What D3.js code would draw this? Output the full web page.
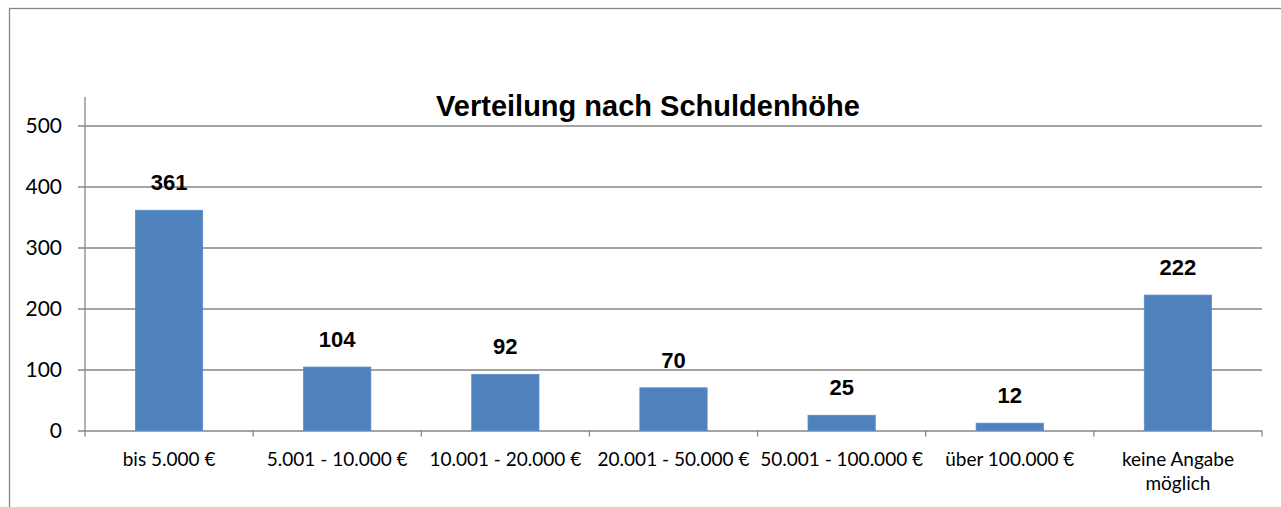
<!DOCTYPE html>
<html>
<head>
<meta charset="utf-8">
<script src="https://cdn.jsdelivr.net/npm/d3@7"></script>
<style>
  body { margin: 0; background: #fff; }
  svg { display: block; }
</style>
</head>
<body>
<svg id="chart"></svg>
<script>
var categories = [
  ["bis 5.000 €"],
  ["5.001 - 10.000 €"],
  ["10.001 - 20.000 €"],
  ["20.001 - 50.000 €"],
  ["50.001 - 100.000 €"],
  ["über 100.000 €"],
  ["keine Angabe", "möglich"]
];
var counts = [361, 104, 92, 70, 25, 12, 222];
var yTicks = [0, 100, 200, 300, 400, 500];
var chartTitle = "Verteilung nach Schuldenhöhe";

var width = 1281;
var height = 507;
var plot = { left: 85, right: 1262, top: 97, bottom: 430.5 };
var gridColor = '#868686';
var barColor = '#4f81bd';

var svg = d3.select('#chart')
    .attr('width', width)
    .attr('height', height);

// outer chart border (cut off at right and bottom)
svg.append('rect')
    .attr('x', 9.5)
    .attr('y', 8.5)
    .attr('width', width + 20)
    .attr('height', height + 20)
    .attr('fill', 'none')
    .attr('stroke', gridColor)
    .attr('stroke-width', 1.3);

var xScale = d3.scaleBand()
    .domain(d3.range(categories.length))
    .range([plot.left, plot.right])
    .paddingInner(0.6)
    .paddingOuter(0.3);

var yScale = d3.scaleLinear()
    .domain([0, 500])
    .range([plot.bottom, 125.5]);

// gridlines + y ticks
var yAxis = d3.axisLeft(yScale)
    .tickValues(yTicks)
    .tickSize(-(plot.right - plot.left))
    .tickPadding(23)
    .tickFormat(d3.format('d'));

var yg = svg.append('g')
    .attr('transform', 'translate(' + plot.left + ',0)')
    .call(yAxis);
yg.select('.domain').remove();
yg.selectAll('.tick line')
    .attr('x1', -7)
    .attr('stroke', gridColor)
    .attr('stroke-width', 1.3);
yg.selectAll('.tick text')
    .attr('font-family', 'Lato, "Open Sans", sans-serif')
    .attr('font-size', '21px')
    .attr('fill', '#000');

// y axis line
svg.append('line')
    .attr('x1', plot.left)
    .attr('x2', plot.left)
    .attr('y1', plot.top)
    .attr('y2', plot.bottom)
    .attr('stroke', gridColor)
    .attr('stroke-width', 1.3);

// x axis ticks at category boundaries
var step = xScale.step();
var boundaries = d3.range(categories.length + 1).map(function(i) {
  return plot.left + i * step;
});
svg.append('g')
  .selectAll('line')
  .data(boundaries)
  .enter()
  .append('line')
    .attr('x1', function(d) { return d; })
    .attr('x2', function(d) { return d; })
    .attr('y1', plot.bottom)
    .attr('y2', plot.bottom + 6)
    .attr('stroke', gridColor)
    .attr('stroke-width', 1.3);

// bars
svg.append('g')
  .selectAll('rect')
  .data(counts)
  .enter()
  .append('rect')
    .attr('x', function(d, i) { return xScale(i); })
    .attr('width', xScale.bandwidth())
    .attr('y', function(d) { return yScale(d); })
    .attr('height', function(d) { return plot.bottom - yScale(d); })
    .attr('fill', barColor)
    .attr('stroke', '#5b8ccb')
    .attr('stroke-width', 0.8);

// value labels
svg.append('g')
  .selectAll('text')
  .data(counts)
  .enter()
  .append('text')
    .attr('x', function(d, i) { return xScale(i) + xScale.bandwidth() / 2; })
    .attr('y', function(d) { return yScale(d) - 20; })
    .attr('text-anchor', 'middle')
    .attr('font-family', '"Liberation Sans", Arial, sans-serif')
    .attr('font-weight', 'bold')
    .attr('font-size', '22px')
    .text(function(d) { return d; });

// category labels
var xl = svg.append('g')
  .selectAll('text')
  .data(categories)
  .enter()
  .append('text')
    .attr('x', function(d, i) { return xScale(i) + xScale.bandwidth() / 2; })
    .attr('y', 466)
    .attr('text-anchor', 'middle')
    .attr('font-family', 'Lato, "Open Sans", sans-serif')
    .attr('font-size', '19px')
    .attr('fill', '#000');
xl.selectAll('tspan')
  .data(function(d) { return d; })
  .enter()
  .append('tspan')
    .attr('x', function() { return d3.select(this.parentNode).attr('x'); })
    .attr('dy', function(d, i) { return i === 0 ? 0 : 24; })
    .text(function(d) { return d; });

// title
svg.append('text')
    .attr('x', 648)
    .attr('y', 116)
    .attr('text-anchor', 'middle')
    .attr('font-family', '"Liberation Sans", Arial, sans-serif')
    .attr('font-weight', 'bold')
    .attr('font-size', '29px')
    .text(chartTitle);
</script>
</body>
</html>
